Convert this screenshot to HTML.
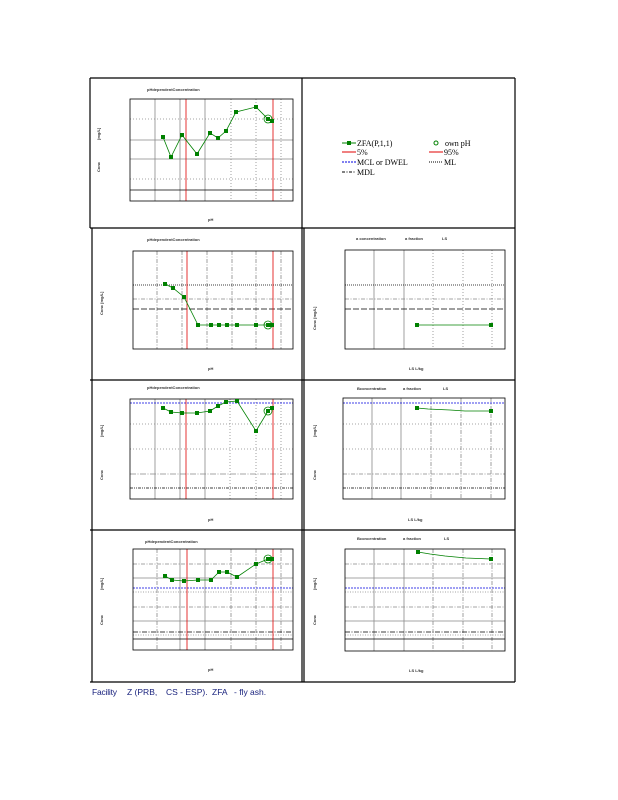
<!DOCTYPE html>
<html><head><meta charset="utf-8"><style>
html,body{margin:0;padding:0;background:#fff;}
svg{display:block;}
text{font-family:"Liberation Sans",sans-serif;}
.t{font-size:4px;fill:#333;}
.lg{font-family:"Liberation Serif",serif;font-size:8px;fill:#000;}
</style></head><body>
<svg width="618" height="800" viewBox="0 0 618 800" xmlns="http://www.w3.org/2000/svg">
<!-- cell borders -->
<g stroke="#000" stroke-width="1.2" fill="none">
<line x1="90" y1="78" x2="515" y2="78"/>
<line x1="90" y1="228" x2="515" y2="228"/>
<line x1="90" y1="380" x2="515" y2="380"/>
<line x1="90" y1="530" x2="515" y2="530"/>
<line x1="90" y1="682" x2="515" y2="682"/>
<line x1="90" y1="78" x2="90" y2="228"/>
<line x1="92" y1="228" x2="92" y2="682"/>
<line x1="302" y1="78" x2="302" y2="682"/>
<line x1="304" y1="228" x2="304" y2="682"/>
<line x1="515" y1="78" x2="515" y2="682"/>
</g>

<!-- ===== Panel 1 ===== -->
<g fill="none" stroke-width="0.8">
<g stroke="#888"><line x1="155" y1="99" x2="155" y2="201"/><line x1="180" y1="99" x2="180" y2="201"/><line x1="205" y1="99" x2="205" y2="201"/><line x1="130" y1="140" x2="293" y2="140"/><line x1="130" y1="159" x2="293" y2="159"/></g>
<g stroke="#888" stroke-dasharray="1,2"><line x1="231" y1="99" x2="231" y2="201"/><line x1="256" y1="99" x2="256" y2="201"/><line x1="281" y1="99" x2="281" y2="201"/><line x1="130" y1="119" x2="293" y2="119"/><line x1="130" y1="179" x2="293" y2="179"/></g>
<line x1="130" y1="190" x2="293" y2="190" stroke="#000"/>
<g stroke="#e00000"><line x1="186" y1="99" x2="186" y2="201"/><line x1="273" y1="99" x2="273" y2="201"/></g>
<rect x="130" y="99" width="163" height="102" stroke="#000"/>
<polyline stroke="#008000" points="163,137 171,157 182,135 197,154 210,133 218,138 226,131 236,112 256,107 268,119 272,121"/>
<circle cx="268" cy="119" r="4" stroke="#008000"/>
</g>
<g fill="#008000"><rect x="161" y="135" width="4" height="4"/><rect x="169" y="155" width="4" height="4"/><rect x="180" y="133" width="4" height="4"/><rect x="195" y="152" width="4" height="4"/><rect x="208" y="131" width="4" height="4"/><rect x="216" y="136" width="4" height="4"/><rect x="224" y="129" width="4" height="4"/><rect x="234" y="110" width="4" height="4"/><rect x="254" y="105" width="4" height="4"/><rect x="266" y="117" width="4" height="4"/><rect x="270" y="119" width="4" height="4"/></g>
<text x="147" y="91" class="t" font-weight="bold">pHdependentConcentration</text>
<text x="208" y="221" class="t" font-weight="bold">pH</text>
<text x="100" y="140" class="t" font-weight="bold" transform="rotate(-90 100 140)">[mg/L]</text>
<text x="100" y="172" class="t" font-weight="bold" transform="rotate(-90 100 172)">Conc</text>

<!-- ===== Legend ===== -->
<g stroke-width="1" fill="none">
<line x1="342" y1="143" x2="356" y2="143" stroke="#008000"/>
<line x1="342" y1="152" x2="356" y2="152" stroke="#e00000"/>
<line x1="429" y1="152" x2="443" y2="152" stroke="#e00000"/>
<line x1="342" y1="162" x2="356" y2="162" stroke="#0000e0" stroke-dasharray="2,1"/>
<line x1="429" y1="162" x2="443" y2="162" stroke="#000" stroke-dasharray="1,1"/>
<line x1="342" y1="172" x2="356" y2="172" stroke="#000" stroke-dasharray="3,1.5,1,1.5"/>
<circle cx="436" cy="143" r="2" stroke="#008000"/>
</g>
<rect x="347" y="141" width="4" height="4" fill="#008000"/>
<text x="357" y="146" class="lg">ZFA(P,1,1)</text>
<text x="445" y="146" class="lg">own pH</text>
<text x="357" y="155" class="lg">5%</text>
<text x="444" y="155" class="lg">95%</text>
<text x="357" y="165" class="lg">MCL or DWEL</text>
<text x="444" y="165" class="lg">ML</text>
<text x="357" y="175" class="lg">MDL</text>

<!-- ===== Panel 2 left ===== -->
<g fill="none" stroke-width="0.8">
<g stroke="#888" stroke-dasharray="4,1.5,1,1.5"><line x1="157" y1="251" x2="157" y2="349"/><line x1="182" y1="251" x2="182" y2="349"/><line x1="207" y1="251" x2="207" y2="349"/><line x1="232" y1="251" x2="232" y2="349"/><line x1="256" y1="251" x2="256" y2="349"/><line x1="281" y1="251" x2="281" y2="349"/><line x1="133" y1="299" x2="293" y2="299"/></g>
<line x1="133" y1="285" x2="293" y2="285" stroke="#000" stroke-dasharray="1,1"/>
<line x1="133" y1="309" x2="293" y2="309" stroke="#000" stroke-dasharray="6,2"/>
<g stroke="#e00000"><line x1="187" y1="251" x2="187" y2="349"/><line x1="273" y1="251" x2="273" y2="349"/></g>
<rect x="133" y="251" width="160" height="98" stroke="#000"/>
<polyline stroke="#008000" points="165,284 173,288 184,297 198,325 211,325 219,325 227,325 237,325 256,325 268,325 272,325"/>
<circle cx="268" cy="325" r="4" stroke="#008000"/>
</g>
<g fill="#008000"><rect x="163" y="282" width="4" height="4"/><rect x="171" y="286" width="4" height="4"/><rect x="182" y="295" width="4" height="4"/><rect x="196" y="323" width="4" height="4"/><rect x="209" y="323" width="4" height="4"/><rect x="217" y="323" width="4" height="4"/><rect x="225" y="323" width="4" height="4"/><rect x="235" y="323" width="4" height="4"/><rect x="254" y="323" width="4" height="4"/><rect x="266" y="323" width="4" height="4"/><rect x="270" y="323" width="4" height="4"/></g>
<text x="147" y="241" class="t" font-weight="bold">pHdependentConcentration</text>
<text x="208" y="370" class="t" font-weight="bold">pH</text>
<text x="103" y="315" class="t" font-weight="bold" transform="rotate(-90 103 315)">Conc [mg/L]</text>

<!-- ===== Panel 2 right ===== -->
<g fill="none" stroke-width="0.8">
<g stroke="#888"><line x1="374" y1="250" x2="374" y2="349"/><line x1="404" y1="250" x2="404" y2="349"/></g>
<g stroke="#888" stroke-dasharray="1,2"><line x1="433" y1="250" x2="433" y2="349"/><line x1="463" y1="250" x2="463" y2="349"/><line x1="492" y1="250" x2="492" y2="349"/></g>
<line x1="345" y1="299" x2="505" y2="299" stroke="#888" stroke-dasharray="4,1.5,1,1.5"/>
<line x1="345" y1="285" x2="505" y2="285" stroke="#000" stroke-dasharray="1,1"/>
<line x1="345" y1="309" x2="505" y2="309" stroke="#000" stroke-dasharray="6,2"/>
<rect x="345" y="250" width="160" height="99" stroke="#000"/>
<line x1="417" y1="325" x2="491" y2="325" stroke="#008000"/>
</g>
<rect x="415" y="323" width="4" height="4" fill="#008000"/><rect x="489" y="323" width="4" height="4" fill="#008000"/>
<text x="356" y="240" class="t" font-weight="bold">a   concentration</text>
<text x="405" y="240" class="t" font-weight="bold">a  fraction</text>
<text x="442" y="240" class="t" font-weight="bold">LS</text>
<text x="409" y="370" class="t" font-weight="bold">LS   L/kg</text>
<text x="316" y="330" class="t" font-weight="bold" transform="rotate(-90 316 330)">Conc [mg/L]</text>

<!-- ===== Panel 3 left ===== -->
<g fill="none" stroke-width="0.8">
<g stroke="#888"><line x1="155" y1="399" x2="155" y2="499"/><line x1="180" y1="399" x2="180" y2="499"/><line x1="205" y1="399" x2="205" y2="499"/></g>
<g stroke="#888" stroke-dasharray="1,2"><line x1="230" y1="399" x2="230" y2="499"/><line x1="256" y1="399" x2="256" y2="499"/><line x1="281" y1="399" x2="281" y2="499"/><line x1="130" y1="424" x2="293" y2="424"/><line x1="130" y1="449" x2="293" y2="449"/></g>
<line x1="130" y1="474" x2="293" y2="474" stroke="#888" stroke-dasharray="6,1.5,1,1.5"/>
<line x1="130" y1="488" x2="293" y2="488" stroke="#000" stroke-dasharray="3,1,1,1,1,1"/>
<line x1="130" y1="403" x2="293" y2="403" stroke="#0000e0" stroke-dasharray="2,1"/>
<g stroke="#e00000"><line x1="186" y1="399" x2="186" y2="499"/><line x1="273" y1="399" x2="273" y2="499"/></g>
<rect x="130" y="399" width="163" height="100" stroke="#000"/>
<polyline stroke="#008000" points="163,408 171,412 182,413 197,413 210,411 218,406 226,402 237,401 256,431 268,411 272,408"/>
<circle cx="268" cy="411" r="4" stroke="#008000"/>
</g>
<g fill="#008000"><rect x="161" y="406" width="4" height="4"/><rect x="169" y="410" width="4" height="4"/><rect x="180" y="411" width="4" height="4"/><rect x="195" y="411" width="4" height="4"/><rect x="208" y="409" width="4" height="4"/><rect x="216" y="404" width="4" height="4"/><rect x="224" y="400" width="4" height="4"/><rect x="235" y="399" width="4" height="4"/><rect x="254" y="429" width="4" height="4"/><rect x="266" y="409" width="4" height="4"/><rect x="270" y="406" width="4" height="4"/></g>
<text x="147" y="389" class="t" font-weight="bold">pHdependentConcentration</text>
<text x="208" y="521" class="t" font-weight="bold">pH</text>
<text x="103" y="437" class="t" font-weight="bold" transform="rotate(-90 103 437)">[mg/L]</text>
<text x="103" y="480" class="t" font-weight="bold" transform="rotate(-90 103 480)">Conc</text>

<!-- ===== Panel 3 right ===== -->
<g fill="none" stroke-width="0.8">
<g stroke="#888"><line x1="372" y1="398" x2="372" y2="499"/><line x1="401" y1="398" x2="401" y2="499"/></g>
<g stroke="#888" stroke-dasharray="4,1.5,1,1.5"><line x1="431" y1="398" x2="431" y2="499"/><line x1="461" y1="398" x2="461" y2="499"/><line x1="491" y1="398" x2="491" y2="499"/><line x1="343" y1="474" x2="505" y2="474"/></g>
<g stroke="#888" stroke-dasharray="1,2"><line x1="343" y1="424" x2="505" y2="424"/><line x1="343" y1="449" x2="505" y2="449"/></g>
<line x1="343" y1="488" x2="505" y2="488" stroke="#000" stroke-dasharray="3,1,1,1,1,1"/>
<line x1="343" y1="403" x2="505" y2="403" stroke="#0000e0" stroke-dasharray="2,1"/>
<rect x="343" y="398" width="162" height="101" stroke="#000"/>
<polyline stroke="#008000" points="417,408 428,409 450,410 465,411 491,411"/>
</g>
<rect x="415" y="406" width="4" height="4" fill="#008000"/><rect x="489" y="409" width="4" height="4" fill="#008000"/>
<text x="357" y="390" class="t" font-weight="bold">Bconcentration</text>
<text x="403" y="390" class="t" font-weight="bold">a  fraction</text>
<text x="443" y="390" class="t" font-weight="bold">LS</text>
<text x="408" y="521" class="t" font-weight="bold">LS   L/kg</text>
<text x="316" y="437" class="t" font-weight="bold" transform="rotate(-90 316 437)">[mg/L]</text>
<text x="316" y="480" class="t" font-weight="bold" transform="rotate(-90 316 480)">Conc</text>

<!-- ===== Panel 4 left ===== -->
<g fill="none" stroke-width="0.8">
<g stroke="#888"><line x1="133" y1="578" x2="293" y2="578"/><line x1="133" y1="621" x2="293" y2="621"/><line x1="180" y1="549" x2="180" y2="650"/><line x1="205" y1="549" x2="205" y2="650"/></g>
<g stroke="#888" stroke-dasharray="4,1.5,1,1.5"><line x1="157" y1="549" x2="157" y2="650"/><line x1="231" y1="549" x2="231" y2="650"/><line x1="256" y1="549" x2="256" y2="650"/><line x1="281" y1="549" x2="281" y2="650"/><line x1="133" y1="564" x2="293" y2="564"/><line x1="133" y1="607" x2="293" y2="607"/></g>
<g stroke="#888" stroke-dasharray="1,1.5"><line x1="133" y1="592" x2="293" y2="592"/><line x1="133" y1="635" x2="293" y2="635"/></g>
<line x1="133" y1="588" x2="293" y2="588" stroke="#0000e0" stroke-dasharray="2,1"/>
<line x1="133" y1="632" x2="293" y2="632" stroke="#000" stroke-dasharray="5,1.5,1,1.5"/>
<line x1="133" y1="639" x2="293" y2="639" stroke="#000"/>
<g stroke="#e00000"><line x1="187" y1="549" x2="187" y2="650"/><line x1="273" y1="549" x2="273" y2="650"/></g>
<rect x="133" y="549" width="160" height="101" stroke="#000"/>
<polyline stroke="#008000" points="165,576 172,580 184,581 198,580 211,580 219,572 227,572 237,577 256,564 268,559 272,559"/>
<circle cx="268" cy="559" r="4" stroke="#008000"/>
</g>
<g fill="#008000"><rect x="163" y="574" width="4" height="4"/><rect x="170" y="578" width="4" height="4"/><rect x="182" y="579" width="4" height="4"/><rect x="196" y="578" width="4" height="4"/><rect x="209" y="578" width="4" height="4"/><rect x="217" y="570" width="4" height="4"/><rect x="225" y="570" width="4" height="4"/><rect x="235" y="575" width="4" height="4"/><rect x="254" y="562" width="4" height="4"/><rect x="266" y="557" width="4" height="4"/><rect x="270" y="557" width="4" height="4"/></g>
<text x="145" y="543" class="t" font-weight="bold">pHdependentConcentration</text>
<text x="208" y="671" class="t" font-weight="bold">pH</text>
<text x="103" y="590" class="t" font-weight="bold" transform="rotate(-90 103 590)">[mg/L]</text>
<text x="103" y="625" class="t" font-weight="bold" transform="rotate(-90 103 625)">Conc</text>

<!-- ===== Panel 4 right ===== -->
<g fill="none" stroke-width="0.8">
<g stroke="#888"><line x1="345" y1="578" x2="505" y2="578"/><line x1="345" y1="621" x2="505" y2="621"/><line x1="374" y1="549" x2="374" y2="651"/><line x1="404" y1="549" x2="404" y2="651"/></g>
<g stroke="#888" stroke-dasharray="4,1.5,1,1.5"><line x1="433" y1="549" x2="433" y2="651"/><line x1="463" y1="549" x2="463" y2="651"/><line x1="492" y1="549" x2="492" y2="651"/><line x1="345" y1="564" x2="505" y2="564"/><line x1="345" y1="607" x2="505" y2="607"/></g>
<g stroke="#888" stroke-dasharray="1,1.5"><line x1="345" y1="592" x2="505" y2="592"/><line x1="345" y1="635" x2="505" y2="635"/></g>
<line x1="345" y1="588" x2="505" y2="588" stroke="#0000e0" stroke-dasharray="2,1"/>
<line x1="345" y1="632" x2="505" y2="632" stroke="#000" stroke-dasharray="5,1.5,1,1.5"/>
<line x1="345" y1="639" x2="505" y2="639" stroke="#000"/>
<rect x="345" y="549" width="160" height="102" stroke="#000"/>
<polyline stroke="#008000" points="418,552 430,554 445,556 466,558 491,559"/>
</g>
<rect x="416" y="550" width="4" height="4" fill="#008000"/><rect x="489" y="557" width="4" height="4" fill="#008000"/>
<text x="357" y="540" class="t" font-weight="bold">Bconcentration</text>
<text x="403" y="540" class="t" font-weight="bold">a  fraction</text>
<text x="444" y="540" class="t" font-weight="bold">LS</text>
<text x="409" y="672" class="t" font-weight="bold">LS   L/kg</text>
<text x="316" y="590" class="t" font-weight="bold" transform="rotate(-90 316 590)">[mg/L]</text>
<text x="316" y="625" class="t" font-weight="bold" transform="rotate(-90 316 625)">Conc</text>

<!-- caption -->
<g font-family="Liberation Sans, sans-serif" font-size="8.5" fill="#1a237e">
<text x="92" y="695" textLength="25">Facility</text>
<text x="127" y="695">Z  (PRB,</text>
<text x="166" y="695">CS  - ESP).</text>
<text x="212" y="695">ZFA</text>
<text x="234" y="695">- fly   ash.</text>
</g>
</svg>
</body></html>
